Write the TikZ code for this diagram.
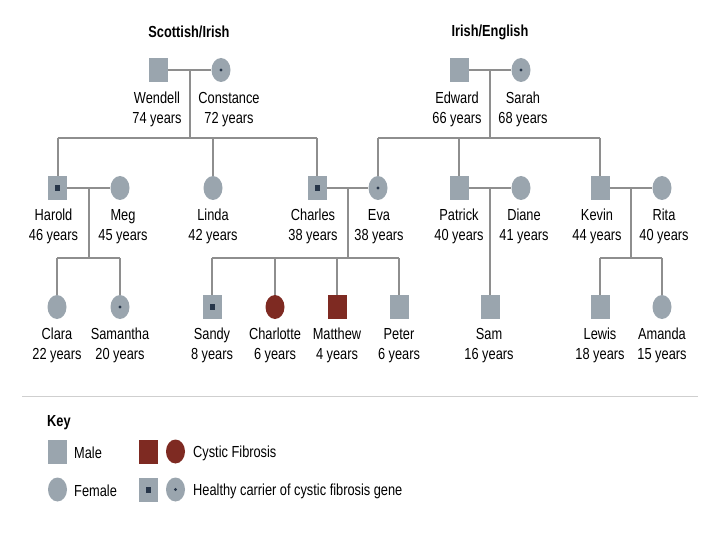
\documentclass[tikz,border=0pt]{standalone}
\usepackage{fontspec}
\setmainfont{Liberation Sans}[FakeStretch=0.8]
\usetikzlibrary{positioning, shapes.geometric, calc}

\definecolor{persongray}{HTML}{9AA5AE}
\definecolor{cfred}{HTML}{7E2A22}
\definecolor{linegray}{HTML}{8E8E8E}
\definecolor{rulegray}{HTML}{CFCFCF}
\definecolor{dotblue}{HTML}{27364A}

\begin{document}
\begin{tikzpicture}[
  x=1pt, y=-1pt,
  node distance = 9pt,
  every node/.style = {align=center, inner sep=0pt, font=\fontsize{16}{20}\selectfont},
  male/.style = {rectangle, fill=persongray, minimum width=19pt, minimum height=24pt},
  female/.style = {ellipse, fill=persongray, minimum width=19pt, minimum height=24pt},
  cfmale/.style = {male, fill=cfred},
  cffemale/.style = {female, fill=cfred},
  mcarrier/.style = {male, path picture={\fill[dotblue] ([shift={(-2.5pt,-3pt)}]path picture bounding box.center) rectangle ++(5pt,6pt);}},
  fcarrier/.style = {female, path picture={\fill[dotblue] (path picture bounding box.center) circle (1.7pt);}},
  title/.style = {font=\fontsize{16}{20}\selectfont\bfseries},
  kin/.style = {draw=linegray, line width=2pt}
]
\useasboundingbox (0,0) rectangle (720,540);

% --- Titles
\node[title] (scot) at (189,32) {Scottish/Irish};
\node[title] (irish) at (490,32) {Irish/English};

% --- First generation
\node[male] (wendell) at (158,70) {};
\node[fcarrier] (constance) at (221,70) {};
\node[male] (edward) at (459,70) {};
\node[fcarrier] (sarah) at (521,70) {};

\node[below=10pt of wendell, xshift=-1pt] (wendell-l) {Wendell\\74 years};
\node[below=10pt of constance, xshift=8pt] (constance-l) {Constance\\72 years};
\node[below=10pt of edward, xshift=-2pt] (edward-l) {Edward\\66 years};
\node[below=10pt of sarah, xshift=2pt] (sarah-l) {Sarah\\68 years};

% --- Second generation
\node[mcarrier] (harold) at (57.5,188) {};
\node[female] (meg) at (120,188) {};
\node[female] (linda) at (213,188) {};
\node[mcarrier] (charles) at (317,188) {};
\node[fcarrier] (eva) at (378,188) {};
\node[male] (patrick) at (459,188) {};
\node[female] (diane) at (521,188) {};
\node[male] (kevin) at (600,188) {};
\node[female] (rita) at (662,188) {};

\node[below=of harold, xshift=-4pt] (harold-l) {Harold\\46 years};
\node[below=of meg, xshift=3pt] (meg-l) {Meg\\45 years};
\node[below=of linda] (linda-l) {Linda\\42 years};
\node[below=of charles, xshift=-4pt] (charles-l) {Charles\\38 years};
\node[below=of eva, xshift=1pt] (eva-l) {Eva\\38 years};
\node[below=of patrick] (patrick-l) {Patrick\\40 years};
\node[below=of diane, xshift=3pt] (diane-l) {Diane\\41 years};
\node[below=of kevin, xshift=-3pt] (kevin-l) {Kevin\\44 years};
\node[below=of rita, xshift=2pt] (rita-l) {Rita\\40 years};

% --- Third generation
\node[female] (clara) at (57,307) {};
\node[fcarrier] (samantha) at (120,307) {};
\node[mcarrier] (sandy) at (212,307) {};
\node[cffemale] (charlotte) at (275,307) {};
\node[cfmale] (matthew) at (337,307) {};
\node[male] (peter) at (399,307) {};
\node[male] (sam) at (490,307) {};
\node[male] (lewis) at (600,307) {};
\node[female] (amanda) at (662,307) {};

\node[below=of clara] (clara-l) {Clara\\22 years};
\node[below=of samantha] (samantha-l) {Samantha\\20 years};
\node[below=of sandy] (sandy-l) {Sandy\\8 years};
\node[below=of charlotte] (charlotte-l) {Charlotte\\6 years};
\node[below=of matthew] (matthew-l) {Matthew\\4 years};
\node[below=of peter] (peter-l) {Peter\\6 years};
\node[below=of sam, xshift=-1pt] (sam-l) {Sam\\16 years};
\node[below=of lewis] (lewis-l) {Lewis\\18 years};
\node[below=of amanda] (amanda-l) {Amanda\\15 years};

% --- Couples and their children
\coordinate (wc) at ($(wendell)!0.5!(constance)$);
\coordinate (wc-sib) at ($(wc)+(0,68)$);
\draw[kin] (wendell) -- (constance);
\draw[kin] (wc) -- (wc-sib);
\draw[kin] (harold |- wc-sib) -- (charles |- wc-sib);
\foreach \kid in {harold, linda, charles}
  \draw[kin] (\kid |- wc-sib) -- (\kid);

\coordinate (es) at ($(edward)!0.5!(sarah)$);
\coordinate (es-sib) at ($(es)+(0,68)$);
\draw[kin] (edward) -- (sarah);
\draw[kin] (es) -- (es-sib);
\draw[kin] (eva |- es-sib) -- (kevin |- es-sib);
\foreach \kid in {eva, patrick, kevin}
  \draw[kin] (\kid |- es-sib) -- (\kid);

\coordinate (hm) at ($(harold)!0.5!(meg)$);
\coordinate (hm-sib) at ($(hm)+(0,70)$);
\draw[kin] (harold) -- (meg);
\draw[kin] (hm) -- (hm-sib);
\draw[kin] (clara |- hm-sib) -- (samantha |- hm-sib);
\foreach \kid in {clara, samantha}
  \draw[kin] (\kid |- hm-sib) -- (\kid);

\coordinate (ce) at ($(charles)!0.5!(eva)$);
\coordinate (ce-sib) at ($(ce)+(0,70)$);
\draw[kin] (charles) -- (eva);
\draw[kin] (ce) -- (ce-sib);
\draw[kin] (sandy |- ce-sib) -- (peter |- ce-sib);
\foreach \kid in {sandy, charlotte, matthew, peter}
  \draw[kin] (\kid |- ce-sib) -- (\kid);

\coordinate (pd) at ($(patrick)!0.5!(diane)$);
\draw[kin] (patrick) -- (diane);
\draw[kin] (sam |- pd) -- (sam);

\coordinate (kr) at ($(kevin)!0.5!(rita)$);
\coordinate (kr-sib) at ($(kr)+(0,70)$);
\draw[kin] (kevin) -- (rita);
\draw[kin] (kr) -- (kr-sib);
\draw[kin] (lewis |- kr-sib) -- (amanda |- kr-sib);
\foreach \kid in {lewis, amanda}
  \draw[kin] (\kid |- kr-sib) -- (\kid);

% --- Key
\coordinate (rule-l) at (22,396);
\coordinate (rule-r) at (698,396);
\draw[rulegray, line width=1pt] (rule-l) -- (rule-r);

\node[title, anchor=west] (key) at (47,423) {Key};
\node[male] (key-male) at (57.5,451.5) {};
\node[female] (key-female) at (57.5,489.5) {};
\node[cfmale] (key-cfm) at (148.5,451.5) {};
\node[cffemale] (key-cff) at (175.5,451.5) {};
\node[mcarrier] (key-mc) at (148.5,489.5) {};
\node[fcarrier] (key-fc) at (175.5,489.5) {};

\node[anchor=west] (key-male-t) at (74,453) {Male};
\node[anchor=west] (key-female-t) at (74,491) {Female};
\node[anchor=west] (key-cf-t) at (193,453) {Cystic Fibrosis};
\node[anchor=west] (key-carrier-t) at (193,491) {Healthy carrier of cystic fibrosis gene};

\end{tikzpicture}
\end{document}
